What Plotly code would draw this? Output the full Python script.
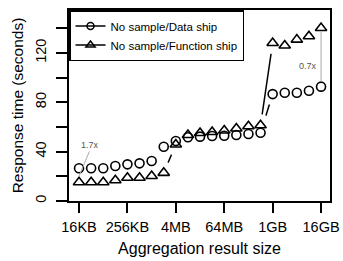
import plotly.graph_objects as go

sizes = ["16KB", "32KB", "64KB", "128KB", "256KB", "512KB", "1MB", "2MB", "4MB",
         "8MB", "16MB", "32MB", "64MB", "128MB", "256MB", "512MB", "1GB", "2GB",
         "4GB", "8GB", "16GB"]
data_ship = [26.5, 26.5, 26.5, 28.3, 29.7, 30.5, 32.4, 44.0, 48.6, 51.6, 52.1,
             52.6, 52.9, 53.4, 54.3, 55.3, 86.6, 87.7, 87.7, 89.3, 92.6]
function_ship = [15.2, 15.2, 15.2, 16.8, 18.8, 18.8, 20.2, 22.8, 45.8, 53.4, 55.1,
                 55.9, 57.1, 58.7, 60.5, 61.3, 128.0, 125.9, 130.7, 133.4, 140.1]
tick_labels = ["16KB", "256KB", "4MB", "64MB", "1GB", "16GB"]
y_ticks = [0, 20, 40, 60, 80, 100, 120, 140]
y_tick_text = ["0", "", "40", "", "80", "", "120", ""]

x = list(range(len(sizes)))
x_tickvals = [sizes.index(t) for t in tick_labels]

FONT = "Liberation Sans, Arial, Helvetica, sans-serif"
fig = go.Figure()

def line_trace(y):
    return go.Scatter(x=x, y=y, mode="lines", line=dict(color="black", width=1.5),
                      showlegend=False, hoverinfo="skip")

def halo_trace(y):
    return go.Scatter(x=x, y=y, mode="markers",
                      marker=dict(symbol="circle", size=22, color="white", line=dict(width=0)),
                      showlegend=False, hoverinfo="skip")

fig.add_trace(line_trace(data_ship))
fig.add_trace(halo_trace(data_ship))
fig.add_trace(line_trace(function_ship))
fig.add_trace(halo_trace(function_ship))
fig.add_trace(go.Scatter(x=x, y=data_ship, mode="markers", showlegend=False,
                         marker=dict(symbol="circle-open", size=9, color="black",
                                     line=dict(width=1.6))))
fig.add_trace(go.Scatter(x=x, y=function_ship, mode="markers", showlegend=False,
                         marker=dict(symbol="triangle-up-open", size=10, color="black",
                                     line=dict(width=1.6))))
# legend entries
fig.add_trace(go.Scatter(x=[None], y=[None], mode="lines+markers", name="No sample/Data ship",
                         line=dict(color="black", width=1.5),
                         marker=dict(symbol="circle-open", size=7, color="black",
                                     line=dict(width=1.5))))
fig.add_trace(go.Scatter(x=[None], y=[None], mode="lines+markers", name="No sample/Function ship",
                         line=dict(color="black", width=1.5),
                         marker=dict(symbol="triangle-up-open", size=8, color="black",
                                     line=dict(width=1.5))))

# ratio annotations
fig.add_shape(type="line", x0=0, y0=function_ship[0] + 5, x1=0.85, y1=40,
              line=dict(color="#aaaaaa", width=1))
fig.add_annotation(x=0.9, y=45.5, text="1.7x", showarrow=False,
                   font=dict(family=FONT, size=9, color="#555555"))
fig.add_shape(type="line", x0=20, y0=data_ship[20] + 4, x1=20, y1=function_ship[20] - 2.6,
              line=dict(color="#aaaaaa", width=1))
fig.add_annotation(x=18.9, y=109, text="0.7x", showarrow=False,
                   font=dict(family=FONT, size=9, color="#555555"))

fig.update_layout(
    width=343, height=261,
    margin=dict(l=69, r=13, t=10, b=60, autoexpand=False),
    paper_bgcolor="white", plot_bgcolor="white",
    font=dict(family=FONT, size=16, color="black"),
    legend=dict(x=0, y=1, xanchor="left", yanchor="top",
                bordercolor="black", borderwidth=1.5, bgcolor="white",
                font=dict(family=FONT, size=11.5, color="black"),
                itemwidth=30, tracegroupgap=0),
    xaxis=dict(range=[-0.83, 20.74], tickvals=x_tickvals, ticktext=tick_labels,
               automargin=False, ticklabeloverflow="allow",
               showgrid=False, zeroline=False, showline=True, mirror=True,
               linecolor="black", linewidth=1.5, ticks="outside", ticklen=10,
               tickwidth=1.5, tickcolor="black", ticklabelstandoff=2,
               tickfont=dict(size=14.5),
               title=dict(text="Aggregation result size", font=dict(size=16), standoff=9)),
    yaxis=dict(range=[0, 154.7], tickvals=y_ticks, ticktext=y_tick_text,
               automargin=False,
               showgrid=False, zeroline=False, showline=True, mirror=True,
               linecolor="black", linewidth=1.5, ticks="outside", ticklen=11,
               tickwidth=1.5, tickcolor="black", tickangle=-90, ticklabelstandoff=4,
               tickfont=dict(size=14.5),
               title=dict(text="Response time (seconds)", font=dict(size=15.5), standoff=6)),
)

# remove the page's default 8px body margin so the figure fills the window exactly
fig.write_html("out.html", config={"displayModeBar": False},
               post_script="document.body.style.margin='0';")
